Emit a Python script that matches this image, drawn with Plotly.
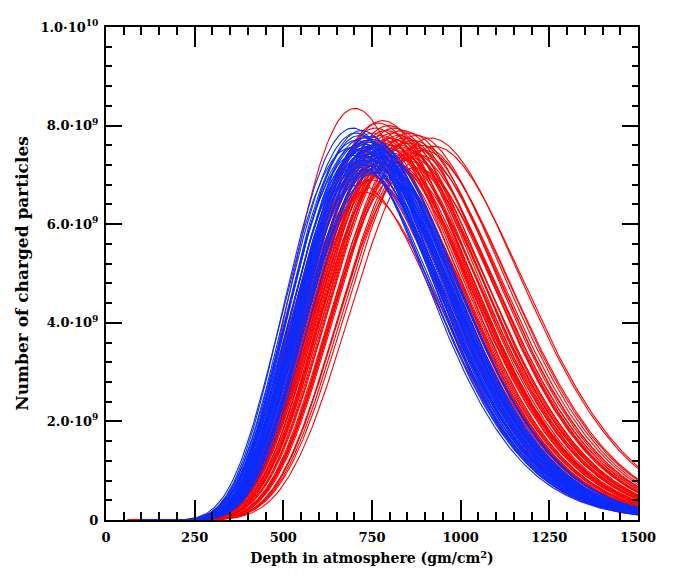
import numpy as np
import plotly.graph_objects as go

# Shower profiles: depth of maximum (g/cm^2),
# maximum size (units of 1e9 particles) and starting depth (g/cm^2).
blue_xmax = [690, 696, 700, 705, 707, 710, 713, 715, 717, 719, 721, 723, 725, 726, 728,
             730, 731, 733, 735, 736, 738, 740, 741, 743, 745, 747, 748, 750, 752, 754,
             755, 757, 759, 761, 763, 765, 767, 770, 773, 777, 705, 720, 733, 743, 760]
blue_nmax = [7.55, 7.95, 7.40, 7.70, 7.25, 7.60, 7.45, 7.80, 7.15, 7.50, 7.65, 7.30, 7.75, 7.40, 7.55,
             7.20, 7.62, 7.35, 7.70, 7.48, 7.10, 7.58, 7.42, 7.66, 7.28, 7.52, 7.72, 7.38, 7.18, 7.60,
             7.45, 7.30, 7.55, 7.05, 7.40, 7.62, 7.25, 7.50, 7.35, 7.20, 7.85, 7.90, 7.05, 7.78, 7.12]
blue_x0 = [100, 112, 106, 120, 116, 102, 124, 110, 128, 104, 118, 122, 108, 130, 112,
           126, 102, 134, 114, 120, 130, 106, 124, 112, 134, 118, 104, 126, 138, 110,
           120, 132, 108, 136, 116, 102, 128, 120, 112, 124, 104, 100, 140, 110, 122]

red_xmax = [702, 715, 722, 728, 733, 738, 742, 745, 748, 752, 755, 758, 760, 763, 766,
            768, 770, 772, 775, 777, 780, 782, 785, 787, 790, 792, 795, 797, 800, 803,
            805, 808, 810, 813, 816, 819, 822, 825, 828, 832, 835, 838, 842, 846, 850,
            855, 860, 865, 870, 876, 882, 888, 895, 915, 925, 735, 765, 790, 812, 840,
            858, 872]
red_nmax = [8.35, 6.80, 7.10, 6.65, 7.55, 7.00, 7.70, 7.30, 6.90, 7.85, 7.45, 7.20, 7.95, 7.60, 7.35,
            8.05, 7.50, 7.25, 7.80, 7.65, 8.10, 7.40, 7.70, 7.15, 7.90, 7.55, 7.30, 8.00, 7.75, 7.45,
            7.60, 7.85, 7.20, 7.95, 7.50, 7.70, 7.35, 7.80, 7.60, 7.40, 7.90, 7.55, 7.75, 7.30, 7.65,
            7.85, 7.45, 7.70, 7.55, 7.80, 7.40, 7.60, 7.50, 7.75, 7.58, 7.45, 6.95, 7.10, 7.25, 7.05,
            7.35, 7.15]
red_x0 = [160, 90, 80, 100, 70, 95, 60, 85, 110, 75, 65, 100, 80, 90, 70,
          60, 95, 105, 75, 85, 65, 100, 80, 110, 70, 90, 60, 75, 95, 85,
          100, 70, 115, 80, 90, 65, 105, 75, 95, 85, 70, 100, 80, 110, 90,
          75, 95, 85, 100, 80, 105, 90, 95, 70, 80, 120, 130, 140, 125, 135,
          110, 120]

# depth at which each family's lines begin (drawn at zero until the profile starts)
red_line_start = 54
blue_line_start = 100

x_tick_vals = [0, 250, 500, 750, 1000, 1250, 1500]
y_tick_vals = [0, 2.0e9, 4.0e9, 6.0e9, 8.0e9, 1.0e10]
y_tick_text = ["0", "2.0·10<sup>9</sup>", "4.0·10<sup>9</sup>", "6.0·10<sup>9</sup>",
               "8.0·10<sup>9</sup>", "1.0·10<sup>10</sup>"]

LAMBDA = 70.0


def profile(xmax, nmax, x0, start):
    x = np.arange(start, 1500.01, 5.0)
    x = np.append(x, 1500.0) if x[-1] < 1500 else x
    t = np.clip((x - x0) / (xmax - x0), 0, None)
    n = nmax * 1e9 * t ** ((xmax - x0) / LAMBDA) * np.exp((xmax - x) / LAMBDA)
    return x, n


fig = go.Figure()
for xm, nm, x0 in zip(red_xmax, red_nmax, red_x0):
    x, n = profile(xm, nm, x0, max(red_line_start, min(x0, red_line_start + 40)))
    fig.add_trace(go.Scatter(x=x, y=n, mode="lines",
                             line=dict(color="#ff0000", width=1.1), showlegend=False,
                             hoverinfo="skip"))
for xm, nm, x0 in zip(blue_xmax, blue_nmax, blue_x0):
    x, n = profile(xm, nm, x0, blue_line_start)
    fig.add_trace(go.Scatter(x=x, y=n, mode="lines",
                             line=dict(color="#0a2cff", width=1.1), showlegend=False,
                             hoverinfo="skip"))

font_family = "DejaVu Serif"
fig.update_layout(
    width=686, height=583,
    margin=dict(l=98, r=56, t=9, b=71),
    paper_bgcolor="white", plot_bgcolor="white",
    font=dict(family=font_family, size=14, color="black"),
    xaxis=dict(
        range=[0, 1500], tickvals=x_tick_vals, ticks="inside", ticklen=20, tickwidth=2,
        tickcolor="black", showline=True, linecolor="black", linewidth=2, mirror="ticks",
        showgrid=False, zeroline=False, ticklabelstandoff=4,
        minor=dict(dtick=50, tick0=0, ticks="inside", ticklen=8, tickwidth=2, tickcolor="black",
                   showgrid=False),
        title=dict(text="Depth in atmosphere (gm/cm<sup>2</sup>)", standoff=10,
                   font=dict(family=font_family, size=14, weight="bold")),
        tickfont=dict(family=font_family, size=13, weight="bold"),
    ),
    yaxis=dict(
        range=[0, 1.0e10], tickvals=y_tick_vals, ticktext=y_tick_text, ticks="inside",
        ticklen=16, tickwidth=2, tickcolor="black", showline=True, linecolor="black",
        linewidth=2, mirror="ticks", showgrid=False, zeroline=False, ticklabelstandoff=3,
        minor=dict(dtick=4.0e8, tick0=0, ticks="inside", ticklen=6, tickwidth=2,
                   tickcolor="black", showgrid=False),
        title=dict(text="Number of charged particles", standoff=8,
                   font=dict(family=font_family, size=17, weight="bold")),
        tickfont=dict(family=font_family, size=13, weight="bold"),
    ),
)

fig.write_html("out.html")
